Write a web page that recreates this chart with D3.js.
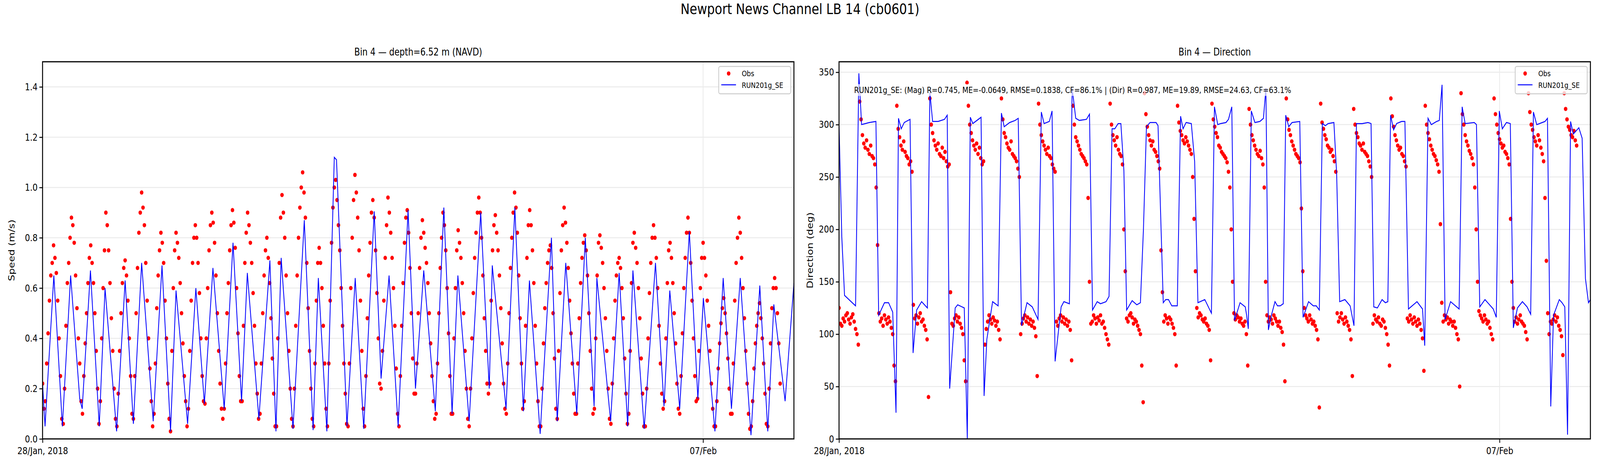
<!DOCTYPE html>
<html><head><meta charset="utf-8">
<script src="https://cdn.jsdelivr.net/npm/d3@7"></script>
<style>html,body{margin:0;padding:0;background:#fff;overflow:hidden}svg{display:block;width:100vw;height:100vh;font-family:"DejaVu Sans",sans-serif}</style>
</head><body>
<svg id="c" viewBox="0 0 5000 1200" preserveAspectRatio="none"></svg>
<script>
const figTitle = "Newport News Channel LB 14 (cb0601)";
const panelTitles = ["Bin 4 \u2014 depth=6.52 m (NAVD)", "Bin 4 \u2014 Direction"];
const yLabels = ["Speed (m/s)", "Direction (deg)"];
const xTickHours = [0, 240];
const xTickLabels = ["28/Jan, 2018", "07/Feb"];
const speedTicks = [0, 0.2, 0.4, 0.6, 0.8, 1.0, 1.2, 1.4];
const dirTicks = [0, 50, 100, 150, 200, 250, 300, 350];
const statsText = "RUN201g_SE: (Mag) R=0.745, ME=-0.0649, RMSE=0.1838, CF=86.1% | (Dir) R=0.987, ME=19.89, RMSE=24.63, CF=63.1%";
const seriesNames = ["Obs", "RUN201g_SE"];
const obsStepHours = 0.5;

// model speed [hour, m/s]
const modelSpeed = [[0,0.22],[0.9,0.05],[4.1,0.65],[7.2,0.05],[10.2,0.65],[13.5,0.16],[14.4,0.12],[17.4,0.67],[20.6,0.05],[22.7,0.60],[26.9,0.03],[30.0,0.63],[33.0,0.06],[36.0,0.70],[40.2,0.07],[43.4,0.69],[46.5,0.03],[48.5,0.59],[52.7,0.06],[55.7,0.60],[58.8,0.14],[61.9,0.68],[66.0,0.12],[69.2,0.78],[72.3,0.15],[74.4,0.66],[78.6,0.08],[82.6,0.71],[84.8,0.03],[86.7,0.72],[91.0,0.04],[95.1,0.87],[98.3,0.035],[100.2,0.64],[103.3,0.03],[106.0,1.12],[106.8,1.11],[110.6,0.05],[113.6,0.64],[116.7,0.04],[120.5,0.905],[123.0,0.24],[125.9,0.65],[129.2,0.05],[132.8,0.91],[135.5,0.2],[138.5,0.67],[142.7,0.11],[145.8,0.92],[148.8,0.10],[150.9,0.65],[155.0,0.07],[159.2,0.90],[162.3,0.2],[163.4,0.69],[168.4,0.12],[171.6,0.92],[174.7,0.11],[176.9,0.63],[180.8,0.02],[184.9,0.80],[187.0,0.07],[190.1,0.70],[194.1,0.10],[197.2,0.80],[200.4,0.13],[201.4,0.64],[206.4,0.07],[209.5,0.66],[212.6,0.05],[214.5,0.67],[218.6,0.04],[222.7,0.70],[225.8,0.13],[227.9,0.59],[231.5,0.12],[235.0,0.825],[238.1,0.16],[240.1,0.56],[244.3,0.03],[247.3,0.64],[250.3,0.12],[253.5,0.64],[257.4,0.015],[260.6,0.61],[263.5,0.03],[265.7,0.535],[269.8,0.15],[273,0.62]];

// model direction [hour, deg]
const modelDir = [[0,300],[1.0,193],[2.0,137],[4,132],[6.0,127],[7.2,349],[8.2,300],[11,302],[13.4,303],[14.4,118],[16.5,130],[18,130],[19.5,121],[20.7,25],[21.6,306],[22.6,296],[23.7,302],[25.8,305],[26.9,82],[28.2,123],[30,131],[32.1,125],[33.0,331],[34,303],[36,303],[38.3,305],[39.3,309],[40.2,48],[42.2,125],[43.1,128],[45.5,125],[46.6,0],[47.7,307],[48.6,301],[51.6,307],[52.7,41],[53.7,95],[55.8,131],[57.8,127],[59.0,311],[60,298],[62,302],[64,304],[65.1,306],[66.3,108],[68.3,130],[70.2,126],[72.3,114],[73.5,312],[74.5,301],[76.4,303],[77.4,313],[78.5,74],[80.7,126],[81.7,131],[83.7,129],[84.7,335],[86,306],[87.3,304],[89.9,305],[91.0,310],[92.1,123],[93.8,131],[95,129],[97,131],[98.1,136],[99.2,296],[100.2,296],[101.4,301],[102.4,301],[103.5,256],[104.5,123],[106.5,132],[108.2,128],[109.5,130],[110.6,200],[111.7,298],[113,302],[115.2,302],[115.9,299],[117.8,130],[118.7,133],[119.7,133],[120.9,127],[122.9,127],[124.1,308],[125.0,296],[126.1,302],[128.0,301],[129.2,265],[130.4,130],[132.9,133],[135.3,120],[136.4,317],[137.6,300],[138.6,301],[140.6,302],[141.5,305],[142.7,317],[143.7,113],[145.7,130],[147.6,126],[148.1,118],[148.7,105],[149.8,313],[151.1,302],[152.9,303],[154.2,306],[155.1,335],[156.0,104],[157.1,118],[158.4,131],[159.3,127],[160.3,127],[161.4,129],[162.3,309],[163.4,298],[164.6,302],[167.4,303],[168.6,116],[170.6,131],[172.3,127],[173.4,127],[174.5,123],[175.6,301],[176.7,299],[177.7,301],[179.8,302],[180.8,253],[181.9,131],[183.8,133],[185.7,127],[187.1,108],[188.0,301],[190.1,301],[192.2,302],[193.3,301],[194.3,126],[195.6,125],[197.3,133],[198.5,130],[199.4,131],[200.4,309],[201.5,295],[202.6,301],[204.4,303],[205.6,303],[206.9,124],[210.0,131],[212.0,124],[212.8,89],[214.0,306],[215.2,300],[217.1,303],[218.1,304],[219.1,338],[220.2,114],[222.2,131],[225.3,124],[226.4,317],[227.5,301],[230.8,302],[231.6,300],[232.8,126],[234.7,133],[237.7,124],[238.8,116],[239.9,313],[241.0,296],[242.5,302],[243.9,301],[245.0,106],[246.5,125],[248.3,131],[250.0,126],[251.3,119],[252.3,312],[253.5,300],[256.5,303],[257.4,306],[258.6,31],[259.6,118],[261.7,133],[262.7,130],[263.7,126],[264.7,4],[265.8,303],[266.8,291],[268.8,297],[270.0,287],[271.2,153],[272.3,130],[273,133]];

// observations, one every 30 minutes from 28/Jan 00:00
const obsSpeed = [0.22,0.12,
0.15,0.3,0.42,0.55,0.65,0.7,0.77,0.72,0.66,0.55,0.4,0.25,0.08,
0.06,0.2,0.45,0.62,0.7,0.8,0.88,0.85,0.78,0.65,0.52,0.4,0.3,0.15,
0.1,0.25,0.38,0.5,0.62,0.72,0.77,0.7,0.62,0.5,0.35,0.2,0.06,
0.15,0.4,0.6,0.75,0.9,0.85,0.75,0.62,0.48,0.35,0.2,0.08,
0.05,0.18,0.35,0.5,0.62,0.68,0.71,0.65,0.55,0.4,0.25,0.1,
0.08,0.25,0.5,0.68,0.82,0.9,0.98,0.92,0.85,0.7,0.55,0.4,0.28,0.15,0.05,
0.1,0.3,0.52,0.65,0.75,0.82,0.78,0.7,0.55,0.4,0.22,0.08,
0.03,0.35,0.6,0.75,0.82,0.78,0.72,0.62,0.5,0.38,0.25,0.15,0.05,
0.12,0.35,0.55,0.7,0.8,0.85,0.8,0.7,0.58,0.4,0.25,0.15,
0.14,0.4,0.6,0.75,0.85,0.9,0.86,0.78,0.65,0.5,0.35,0.22,0.12,0.08,
0.12,0.3,0.5,0.62,0.75,0.85,0.91,0.86,0.76,0.6,0.42,0.25,0.15,
0.15,0.45,0.7,0.82,0.9,0.85,0.78,0.7,0.58,0.45,0.3,0.18,0.08,
0.1,0.3,0.5,0.65,0.75,0.8,0.72,0.62,0.48,0.32,0.18,0.05,
0.05,0.4,0.7,0.88,0.97,0.9,0.8,0.65,0.5,0.35,0.2,0.08,
0.05,0.2,0.45,0.65,0.8,0.92,1.0,1.06,0.98,0.88,0.7,0.52,0.35,0.2,0.08,
0.05,0.3,0.55,0.7,0.76,0.7,0.6,0.45,0.3,0.12,
0.05,0.3,0.55,0.78,0.92,1.0,1.03,0.95,0.85,0.75,0.6,0.45,0.3,0.18,0.06,
0.05,0.3,0.6,0.8,0.95,1.05,0.98,0.88,0.75,0.55,0.35,0.12,
0.05,0.25,0.48,0.65,0.78,0.9,0.95,0.88,0.75,0.58,0.4,0.22,
0.2,0.35,0.55,0.72,0.85,0.96,0.9,0.82,0.72,0.6,0.45,0.28,0.1,
0.05,0.25,0.45,0.62,0.78,0.88,0.91,0.82,0.68,0.5,0.32,0.18,
0.18,0.3,0.5,0.68,0.8,0.87,0.82,0.76,0.7,0.62,0.5,0.38,0.25,0.15,0.08,
0.1,0.3,0.5,0.68,0.8,0.9,0.85,0.75,0.6,0.42,0.25,0.1,
0.1,0.4,0.6,0.75,0.83,0.78,0.72,0.62,0.5,0.35,0.2,0.08,
0.05,0.2,0.4,0.58,0.72,0.82,0.9,0.96,0.9,0.8,0.65,0.48,0.35,0.22,0.18,
0.22,0.55,0.75,0.85,0.89,0.82,0.75,0.65,0.52,0.38,0.22,0.12,
0.1,0.3,0.5,0.68,0.8,0.9,0.98,0.92,0.82,0.65,0.48,0.3,0.12,
0.15,0.45,0.72,0.85,0.91,0.85,0.75,0.62,0.45,0.3,0.15,0.05,
0.05,0.2,0.38,0.52,0.62,0.7,0.75,0.77,0.68,0.5,0.32,0.12,
0.08,0.35,0.58,0.75,0.85,0.92,0.86,0.78,0.68,0.55,0.42,0.3,0.18,0.1,
0.1,0.3,0.48,0.62,0.72,0.78,0.81,0.75,0.65,0.5,0.35,0.2,0.1,
0.12,0.4,0.65,0.78,0.81,0.76,0.7,0.6,0.48,0.35,0.2,0.08,
0.06,0.22,0.4,0.55,0.65,0.7,0.72,0.68,0.6,0.48,0.32,0.18,0.06,
0.1,0.35,0.62,0.78,0.82,0.76,0.7,0.6,0.48,0.32,0.18,0.05,
0.05,0.2,0.4,0.58,0.7,0.8,0.85,0.8,0.72,0.6,0.45,0.3,0.18,0.12,
0.15,0.4,0.62,0.75,0.78,0.72,0.62,0.5,0.38,0.22,0.12,
0.1,0.25,0.42,0.6,0.72,0.82,0.88,0.82,0.7,0.55,0.4,0.25,0.15,
0.16,0.35,0.6,0.72,0.78,0.72,0.65,0.55,0.45,0.35,0.22,0.12,0.05,
0.05,0.15,0.28,0.38,0.46,0.52,0.56,0.5,0.42,0.32,0.2,0.1,
0.1,0.3,0.55,0.7,0.8,0.88,0.82,0.72,0.6,0.48,0.35,0.22,0.1,0.04,
0.05,0.15,0.28,0.38,0.45,0.5,0.54,0.48,0.4,0.3,0.18,0.06,
0.05,0.2,0.38,0.52,0.6,0.64,0.6,0.5,0.38,0.22];

const obsDir = [125,110,
108,115,112,118,120,114,110,116,119,112,105,100,90,
322,305,290,282,278,285,276,272,280,270,268,262,240,185,
120,112,115,108,118,114,110,116,112,106,100,70,55,
318,296,288,280,276,284,274,270,268,262,265,255,
128,115,118,110,116,120,112,114,108,104,95,40,
325,300,292,285,280,276,282,272,270,278,268,274,265,260,262,
140,110,108,115,118,112,116,110,106,100,75,55,
340,318,300,292,285,280,276,282,272,278,268,262,265,
90,105,112,118,114,110,116,113,108,112,104,95,
325,305,292,288,282,278,276,284,272,270,268,265,258,250,
100,110,115,118,112,116,110,114,108,112,106,98,60,
320,300,290,284,280,276,272,278,270,268,262,258,255,
112,108,115,118,112,116,110,114,108,112,104,75,
318,300,288,284,280,276,272,270,268,265,262,230,
150,110,112,118,115,110,116,113,118,110,112,106,100,95,90,
320,300,290,285,280,288,276,272,270,262,
200,160,115,112,118,120,116,110,114,112,108,104,100,70,35,
330,310,298,290,285,280,284,276,274,270,265,258,
180,140,112,118,115,110,116,114,110,106,100,70,
318,302,294,290,285,282,288,284,280,276,272,250,210,
160,125,116,120,118,114,112,115,110,108,104,75,
320,305,298,292,288,280,278,274,272,270,268,264,255,240,200,
150,120,114,118,116,112,115,110,108,112,100,70,
315,300,290,285,280,276,272,270,275,268,262,240,
150,118,112,116,114,110,118,115,112,108,112,106,102,90,55,
325,305,295,290,284,280,276,272,270,268,264,220,
160,125,118,115,112,118,114,110,112,108,104,95,30,
320,302,296,290,286,280,278,274,276,270,265,255,
120,112,116,120,114,110,116,112,108,104,95,60,
315,300,292,288,282,280,276,282,274,272,270,265,260,250,
110,118,114,112,116,110,108,114,112,106,100,90,70,
325,308,298,290,285,280,276,278,272,270,265,260,
115,112,118,114,110,116,112,108,114,110,104,96,65,
318,300,292,286,280,276,272,270,266,262,255,205,
130,112,118,114,116,110,114,112,108,112,106,100,95,50,
330,310,300,290,284,280,275,272,268,262,240,
200,150,122,118,115,112,118,114,110,112,106,100,95,
325,310,300,292,286,282,278,280,274,272,268,262,210,
150,125,112,116,110,114,118,112,110,108,102,95,
330,312,300,295,288,284,280,290,285,278,272,265,230,170,
120,100,112,110,114,118,112,116,108,104,98,80,
330,315,305,298,295,290,288,294,285,280];

const svg = d3.select("#c");
const W = 5000;
svg.append("text").attr("x", W/2).attr("y", 36).attr("text-anchor","middle")
  .attr("font-size", 38).text(figTitle);

const panels = [
  {x0:133, x1:2481, yDom:[0,1.5], ticks:speedTicks, fmt:d3.format(".1f"), obs:obsSpeed, model:modelSpeed, ylx:45},
  {x0:2622, x1:4970, yDom:[0,360], ticks:dirTicks, fmt:d3.format("d"), obs:obsDir, model:modelDir, ylx:2540}
];
const yTop = 158, yBot = 1123;

panels.forEach((p, pi) => {
  const x = d3.scaleLinear().domain([0, 273]).range([p.x0, p.x1]);
  const y = d3.scaleLinear().domain(p.yDom).range([yBot, yTop]);
  const g = svg.append("g");
  const cid = "clip"+pi;
  svg.append("clipPath").attr("id", cid).append("rect")
    .attr("x", p.x0).attr("y", yTop).attr("width", p.x1-p.x0).attr("height", yBot-yTop);
  g.selectAll(".gy").data(p.ticks).join("line").attr("x1", p.x0).attr("x2", p.x1)
    .attr("y1", d=>y(d)).attr("y2", d=>y(d)).attr("stroke","#ebebeb").attr("stroke-width",2.5);
  g.selectAll(".gx").data(xTickHours).join("line").attr("x1", d=>x(d)).attr("x2", d=>x(d))
    .attr("y1", yTop).attr("y2", yBot).attr("stroke","#ebebeb").attr("stroke-width",2.5);
  const plot = g.append("g").attr("clip-path", `url(#${cid})`);
  plot.selectAll("circle").data(p.obs).join("circle")
    .attr("cx", (d,i)=>x(i*obsStepHours)).attr("cy", d=>y(d)).attr("r", 5.5).attr("fill","#ff0000");
  plot.append("path").datum(p.model)
    .attr("d", d3.line().x(d=>x(d[0])).y(d=>y(d[1])))
    .attr("fill","none").attr("stroke","#0000ff").attr("stroke-width",2.5);
  const ax = g.append("g").attr("transform",`translate(0,${yBot})`)
    .call(d3.axisBottom(x).tickValues(xTickHours).tickFormat((d,i)=>xTickLabels[i]).tickSize(10).tickSizeOuter(0));
  const ay = g.append("g").attr("transform",`translate(${p.x0},0)`)
    .call(d3.axisLeft(y).tickValues(p.ticks).tickFormat(p.fmt).tickSize(10).tickSizeOuter(0));
  [ax, ay].forEach(a => {
    a.select(".domain").remove();
    a.selectAll("line").attr("stroke","#000").attr("stroke-width",2.5);
    a.selectAll("text").attr("font-size",25).attr("font-family","DejaVu Sans").attr("fill","#000");
  });
  ax.selectAll("text").attr("dy","1.05em");
  ay.selectAll("text").attr("dx","-0.1em");
  g.append("rect").attr("x", p.x0).attr("y", yTop).attr("width", p.x1-p.x0).attr("height", yBot-yTop)
    .attr("fill","none").attr("stroke","#000").attr("stroke-width",3);
  g.append("text").attr("x", (p.x0+p.x1)/2).attr("y", 142).attr("text-anchor","middle")
    .attr("font-size",26).text(panelTitles[pi]);
  g.append("text").attr("transform",`translate(${p.ylx},${(yTop+yBot)/2}) rotate(-90)`)
    .attr("text-anchor","middle").attr("font-size",26).text(yLabels[pi]);
  const lx = p.x1 - 235, ly = yTop + 12;
  const lg = g.append("g");
  lg.append("rect").attr("x", lx).attr("y", ly).attr("width", 225).attr("height", 70).attr("rx",5)
    .attr("fill","#fff").attr("fill-opacity",0.8).attr("stroke","#cccccc").attr("stroke-width",2.5);
  lg.append("circle").attr("cx", lx+31).attr("cy", ly+18).attr("r",5.5).attr("fill","#ff0000");
  lg.append("line").attr("x1", lx+8).attr("x2", lx+54).attr("y1", ly+47).attr("y2", ly+47)
    .attr("stroke","#0000ff").attr("stroke-width",2.5);
  lg.selectAll("t").data(seriesNames).join("text").attr("x", lx+72).attr("y",(d,i)=>ly+25+i*30)
    .attr("font-size",20).text(d=>d);
  if (pi === 1) {
    const t = g.append("text").attr("x", p.x0+47).attr("y", 238).attr("font-size",22).text(statsText);
    const bb = t.node().getBBox();
    g.insert("rect", () => t.node()).attr("x", bb.x-4).attr("y", bb.y-2).attr("width", bb.width+8)
      .attr("height", bb.height+4).attr("fill","#fff").attr("fill-opacity",0.7);
  }
});
</script>
</body></html>
